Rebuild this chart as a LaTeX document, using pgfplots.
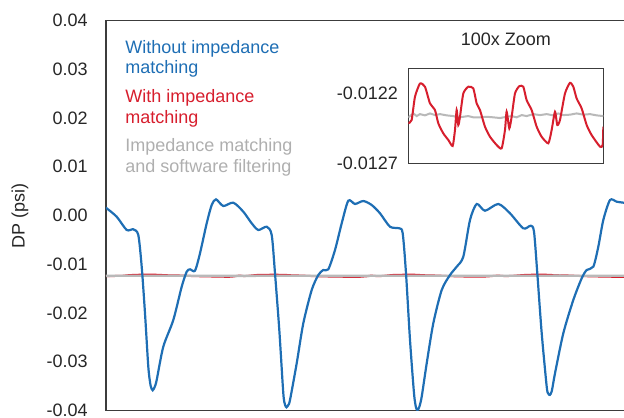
\documentclass[border=0pt]{standalone}
\usepackage{fontspec}
\setmainfont{Liberation Sans}
\usepackage{pgfplots}
\pgfplotsset{compat=1.18}
\definecolor{cblue}{RGB}{30,110,180}
\definecolor{cred}{RGB}{215,30,45}
\definecolor{cgray}{RGB}{185,185,185}
\definecolor{ctext}{RGB}{175,175,175}
\definecolor{cframe}{RGB}{60,60,60}
\begin{document}
\begin{tikzpicture}[font=\fontsize{9}{11}\selectfont]
\begin{axis}[at={(0,0)}, anchor=south west, scale only axis,
  width=262pt, height=195pt,
  xmin=106, xmax=630, ymin=-0.04, ymax=0.04,
  xtick=\empty,
  ytick={-0.04,-0.03,-0.02,-0.01,0,0.01,0.02,0.03,0.04},
  yticklabels={-0.04,-0.03,-0.02,-0.01,0.00,0.01,0.02,0.03,0.04},
  scaled y ticks=false,
  major tick length=0pt,
  yticklabel style={font=\fontsize{9}{11}\selectfont, anchor=east, inner sep=0pt, xshift=-9pt, text=black!85},
  axis line style={cframe, line width=0.75pt},
  ylabel={DP (psi)},
  ylabel style={font=\fontsize{9}{11}\selectfont, at={(axis description cs:-0.1641,0.5)}, anchor=center, text=black!85},
]
% red (with impedance matching)
\addplot[cred, line width=1pt, smooth, tension=0.4] coordinates {
(106,-0.012450) (112.3,-0.012414) (121.1,-0.012390) (129.8,-0.012224) (143.0,-0.012129)
(156.2,-0.012152) (169.3,-0.012271) (182.5,-0.012319) (191.2,-0.012414) (204.4,-0.012486)
(217.5,-0.012533) (229.0,-0.012576) (235.1,-0.012462) (239.5,-0.012319) (243.9,-0.012426)
(248.2,-0.012367) (257.0,-0.012200) (270.2,-0.012152) (283.3,-0.012164) (292.1,-0.012271)
(300.9,-0.012319) (314.0,-0.012438) (327.2,-0.012510) (344.7,-0.012569) (357.9,-0.012593)
(366.7,-0.012462) (371.0,-0.012331) (378.0,-0.012450) (384.2,-0.012367) (392.9,-0.012200)
(404.3,-0.012148) (414.9,-0.012152) (423.6,-0.012248) (436.8,-0.012319) (450.0,-0.012438)
(463.1,-0.012510) (480.6,-0.012557) (489.4,-0.012462) (498.2,-0.012331) (504.3,-0.012426)
(511.3,-0.012390) (524.5,-0.012200) (537.7,-0.012124) (546.4,-0.012152) (555.2,-0.012236)
(568.3,-0.012307) (581.5,-0.012426) (594.7,-0.012498) (616.6,-0.012581) (623.6,-0.012569)
(625.4,-0.012438) (632,-0.012350)
};
% gray (impedance matching + filtering)
\addplot[cgray, line width=1.2pt, smooth] coordinates {
(106,-0.012371) (140,-0.012355) (175,-0.012362) (210,-0.012367) (245,-0.012371)
(280,-0.012362) (315,-0.012367) (350,-0.012376) (385,-0.012362) (420,-0.012357)
(455,-0.012352) (490,-0.012357) (525,-0.012352) (560,-0.012348) (595,-0.012357) (630,-0.012362)
};
% blue (without impedance matching)
\addplot[cblue, line width=1.1pt, smooth, tension=0.45] coordinates {
(106,0.00160) (106.7,0.00148) (116.7,-0.00025) (126.7,-0.00297) (133.3,-0.00283) (138.3,-0.00400)
(141.7,-0.01050) (145,-0.02006) (148.3,-0.03102) (150.6,-0.03490) (152.7,-0.03585) (154.8,-0.03510) (156.7,-0.03374)
(163.3,-0.02691) (173.3,-0.02144) (181.7,-0.01461) (186.7,-0.01153) (190,-0.01104)
(195,-0.01132) (200,-0.00775) (206.7,-0.00160) (211.7,0.00215) (216,0.00332)
(223.3,0.00195) (233.3,0.00263) (243.3,0.00078) (251.7,-0.00160) (258.3,-0.00297)
(266.7,-0.00230) (271.7,-0.00400) (275,-0.01186) (279.3,-0.02349) (283.3,-0.03647)
(285,-0.03880) (286.5,-0.03935) (288.2,-0.03890) (290,-0.03785) (296.7,-0.03032) (303.3,-0.02211) (311.7,-0.01528)
(318.3,-0.01221) (323.3,-0.01118) (328.3,-0.01104) (335,-0.00708) (341.7,-0.00160)
(348.3,0.00304) (355,0.00236) (363.3,0.00297) (371.7,0.00215) (380,0.00045)
(390,-0.00230) (399.3,-0.00263) (402.7,-0.00365) (406,-0.01186) (410,-0.02554)
(414,-0.03647) (416,-0.03940) (417.6,-0.03990) (419.4,-0.03920) (421.7,-0.03717) (426.7,-0.03032) (433.3,-0.02211)
(441.7,-0.01528) (450,-0.01221) (456.7,-0.01050) (463.3,-0.00845) (470,-0.00092)
(476.7,0.00236) (485,0.00098) (498.3,0.00236) (510,0.00045) (523.3,-0.00263)
(530.7,-0.00209) (534,-0.00332) (537.3,-0.01186) (541.7,-0.02416) (546.7,-0.03512)
(548.2,-0.03650) (549.8,-0.03680) (551.8,-0.03600) (555,-0.03237) (563.3,-0.02416) (573.3,-0.01733) (581.7,-0.01288)
(586.7,-0.01118) (593.3,-0.01050) (598.3,-0.00640) (603.3,-0.00092) (610,0.00318)
(616.7,0.00283) (623.3,0.00263) (630,0.00240)
};
\node[anchor=base west, inner sep=0pt, text=cblue] at (axis cs:125,0.03327) {Without impedance};
\node[anchor=base west, inner sep=0pt, text=cblue] at (axis cs:125,0.02917) {matching};
\node[anchor=base west, inner sep=0pt, text=cred] at (axis cs:125,0.02314) {With impedance};
\node[anchor=base west, inner sep=0pt, text=cred] at (axis cs:125,0.01891) {matching};
\node[anchor=base west, inner sep=0pt, text=ctext] at (axis cs:125,0.01309) {Impedance matching};
\node[anchor=base west, inner sep=0pt, text=ctext] at (axis cs:125,0.00878) {and software filtering};
\end{axis}
\begin{axis}[at={(151.15pt,123.6pt)}, anchor=south west, scale only axis,
  width=97.5pt, height=47.5pt,
  xmin=265, xmax=850, ymin=-0.0127, ymax=-0.01202,
  xtick=\empty,
  ytick={-0.0127,-0.0122}, yticklabels={-0.0127,-0.0122},
  scaled y ticks=false,
  major tick length=0pt,
  yticklabel style={font=\fontsize{9}{11}\selectfont, anchor=east, inner sep=0pt, xshift=-5pt, text=black!85},
  axis line style={cframe, line width=0.7pt},
  title={100x Zoom},
  title style={font=\fontsize{9}{11}\selectfont, at={(axis description cs:0.5,1)}, anchor=center, yshift=8.3pt, inner sep=0pt, text=black!85},
  axis background/.style={fill=white},
]
\addplot[cgray, line width=1pt] coordinates {
(265,-0.012371) (280,-0.012343) (290,-0.012362) (300,-0.012348) (315,-0.012357)
(330,-0.012343) (345,-0.012355) (360,-0.012348) (380,-0.012357) (400,-0.012362)
(415,-0.012371) (430,-0.012367) (445,-0.012362) (460,-0.012371) (480,-0.012371)
(500,-0.012367) (520,-0.012371) (540,-0.012376) (560,-0.012367) (575,-0.012362)
(590,-0.012371) (605,-0.012355) (620,-0.012362) (640,-0.012348) (660,-0.012355)
(680,-0.012348) (700,-0.012357) (715,-0.012343) (730,-0.012355) (750,-0.012352)
(770,-0.012343) (790,-0.012352) (810,-0.012348) (830,-0.012357) (850,-0.012362)
};
\addplot[cred, line width=1pt, smooth, tension=0.35] coordinates {
(265,-0.012414) (275,-0.012390) (285,-0.012224) (300,-0.012129) (315,-0.012152)
(330,-0.012271) (345,-0.012319) (355,-0.012414) (370,-0.012486) (385,-0.012533)
(398,-0.012576) (405,-0.012462) (410,-0.012319) (415,-0.012426) (420,-0.012367)
(430,-0.012200) (445,-0.012152) (460,-0.012164) (470,-0.012271) (480,-0.012319)
(495,-0.012438) (510,-0.012510) (530,-0.012569) (545,-0.012593) (555,-0.012462)
(560,-0.012331) (568,-0.012450) (575,-0.012367) (585,-0.012200) (598,-0.012148)
(610,-0.012152) (620,-0.012248) (635,-0.012319) (650,-0.012438) (665,-0.012510)
(685,-0.012557) (695,-0.012462) (705,-0.012331) (712,-0.012426) (720,-0.012390)
(735,-0.012200) (750,-0.012124) (760,-0.012152) (770,-0.012236) (785,-0.012307)
(800,-0.012426) (815,-0.012498) (840,-0.012581) (848,-0.012569) (850,-0.012438)
};
\end{axis}
\pgfresetboundingbox
\useasboundingbox (-53pt,-3.25pt) rectangle (259pt,205.25pt);
\end{tikzpicture}
\end{document}
